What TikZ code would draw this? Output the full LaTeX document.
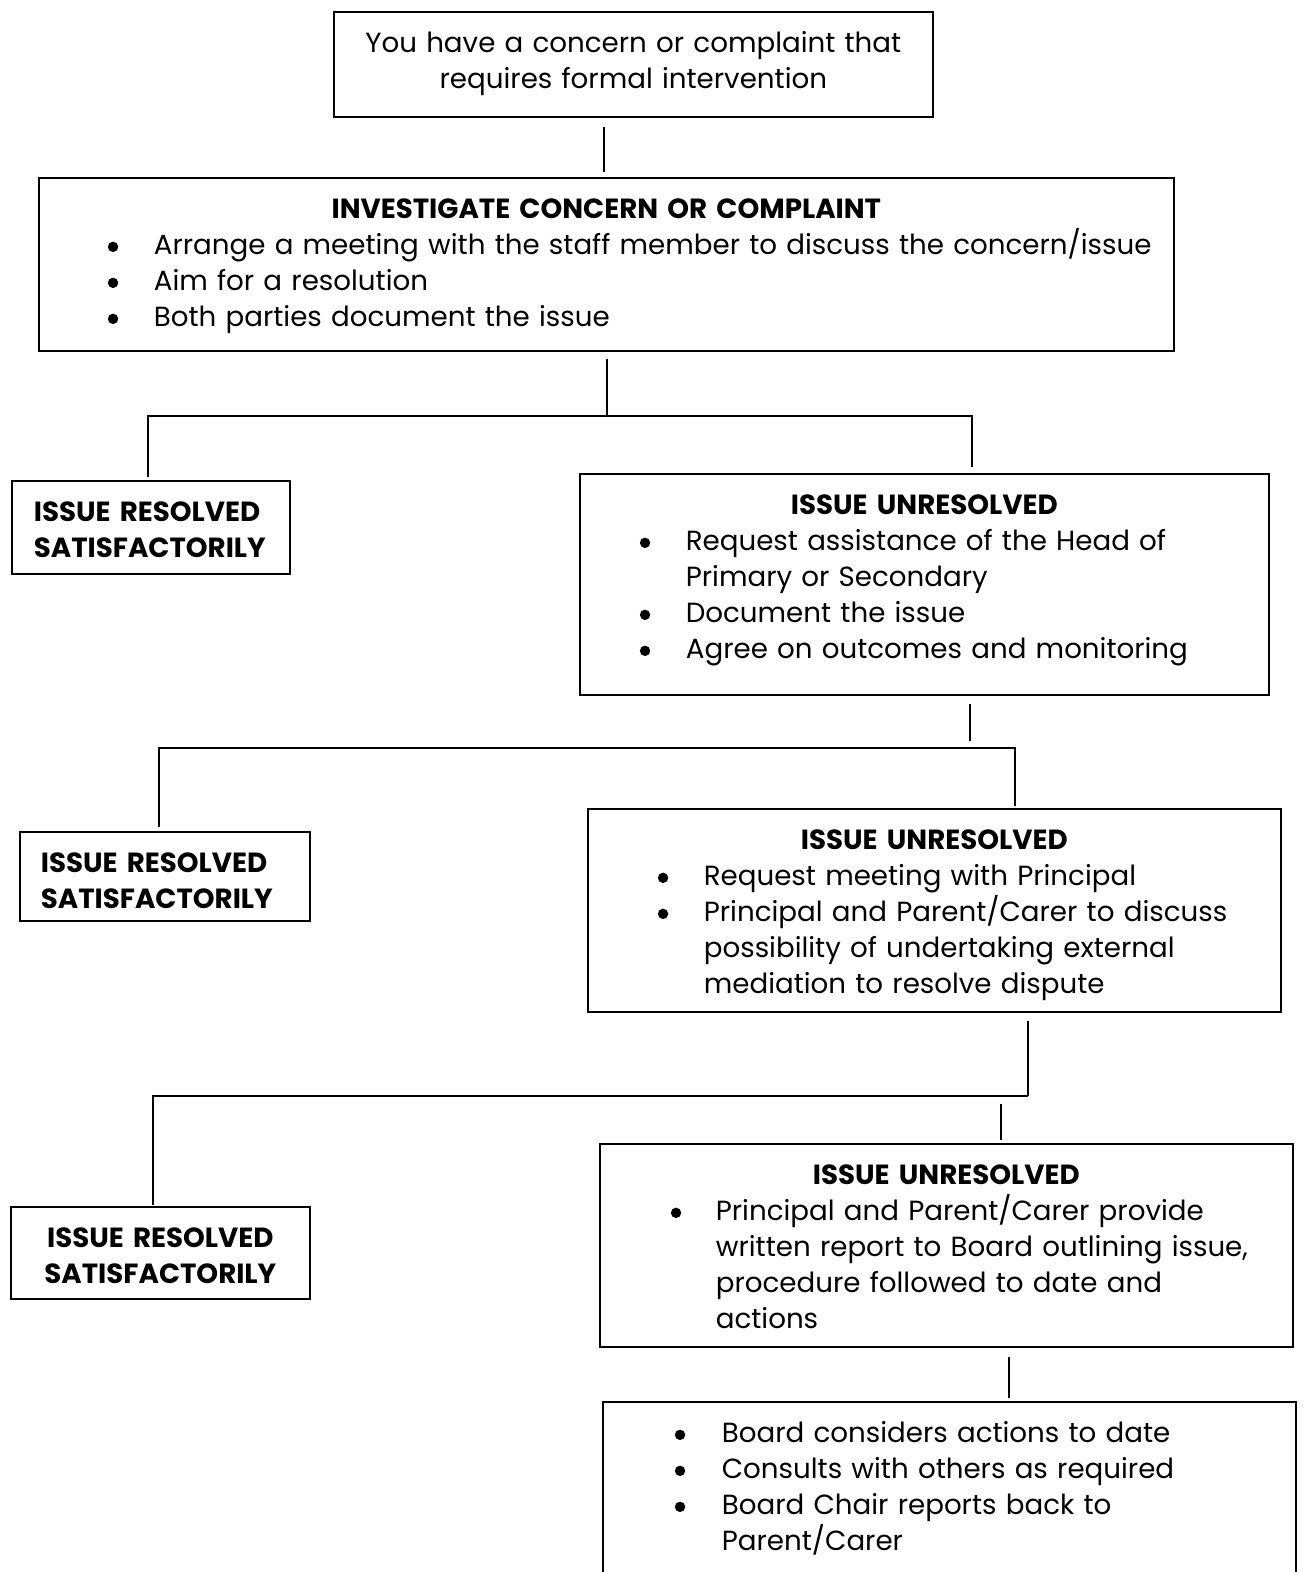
\documentclass[tikz,border=0pt]{standalone}
\usepackage{fontspec}
\setmainfont{Poppins}
\newcommand{\dotmark}{\tikz[baseline=0pt]\fill (0pt,8pt) circle (5.2pt);}
\newcommand{\bitem}[3]{\leftskip=#2\relax\noindent\llap{\makebox[\dimexpr#2-#1\relax][l]{\dotmark}}#3\par}
\tikzset{
  box/.style={draw, line width=1.7pt, anchor=north west, inner sep=0pt, align=left,
    text height=41pt, font=\fontsize{27.7}{36}\selectfont},
  link/.style={line width=1.5pt},
}

\begin{document}
\begin{tikzpicture}[x=1pt,y=-1pt]
    \useasboundingbox (0,0) rectangle (1306,1572);
    \clip (0,0) rectangle (1306,1572);

    \node[box, align=center, text width=599pt, text depth=64pt] (ask) at (333,11)
        {You have a concern or complaint that\\ requires formal intervention};
    \node[box, text width=1135pt, text depth=132pt] (inv) at (38,177)
        {{\centering\bfseries INVESTIGATE CONCERN OR COMPLAINT\par}
         \bitem{69pt}{115pt}{Arrange a meeting with the staff member to discuss the concern/issue}
         \bitem{69pt}{115pt}{Aim for a resolution}
         \bitem{69pt}{115pt}{Both parties document the issue}};

    \node[box, text width=278pt, text depth=52pt] (res1) at (11,480)
        {\leftskip=22pt\bfseries ISSUE RESOLVED\\ SATISFACTORILY\par};
    \node[box, text width=689pt, text depth=180pt] (unres1) at (579,473)
        {{\centering\bfseries ISSUE UNRESOLVED\par}
         \bitem{60pt}{106pt}{Request assistance of the Head of\\ Primary or Secondary}
         \bitem{60pt}{106pt}{Document the issue}
         \bitem{60pt}{106pt}{Agree on outcomes and monitoring}};

    \node[box, text width=290pt, text depth=48pt] (res2) at (19,831)
        {\leftskip=21pt\bfseries ISSUE RESOLVED\\ SATISFACTORILY\par};
    \node[box, text width=693pt, text depth=162pt] (unres2) at (587,808)
        {{\centering\bfseries ISSUE UNRESOLVED\par}
         \bitem{70pt}{116pt}{Request meeting with Principal}
         \bitem{70pt}{116pt}{Principal and Parent/Carer to discuss\\ possibility of undertaking external\\ mediation to resolve dispute}};

    \node[box, align=center, text width=299pt, text depth=51pt] (res3) at (10,1206)
        {\bfseries ISSUE RESOLVED\\ SATISFACTORILY};
    \node[box, text width=693pt, text depth=162pt] (unres3) at (599,1143)
        {{\centering\bfseries ISSUE UNRESOLVED\par}
         \bitem{71pt}{116pt}{Principal and Parent/Carer provide\\ written report to Board outlining issue,\\ procedure followed to date and\\ actions}};

    \node[box, text width=693pt, text depth=159pt] (board) at (602,1401)
        {\bitem{72pt}{119pt}{Board considers actions to date}
         \bitem{72pt}{119pt}{Consults with others as required}
         \bitem{72pt}{119pt}{Board Chair reports back to\\ Parent/Carer}};

    \coordinate (in0) at ([xshift=-2.5pt]inv.north);
    \draw[link, shorten <=9pt, shorten >=5pt] (ask.south -| in0) -- (in0);

    \coordinate (fork1) at (607,416);
    \draw[link, shorten <=7pt] (inv.south -| fork1) -- (fork1);
    \draw[link, shorten >=3pt] (fork1) -| ([xshift=-3pt]res1.north);
    \draw[link, shorten >=6pt] (fork1) -| ([xshift=47.5pt]unres1.north);

    \coordinate (fork2) at (970,748);
    \draw[link, shorten <=8pt, shorten >=7pt] (unres1.south -| fork2) -- (fork2);
    \draw[link, shorten <=4pt, shorten >=2pt] ([xshift=-6pt]res2.north) |- (fork2) -| ([xshift=80.5pt]unres2.north);

    \coordinate (fork3) at (1028,1096);
    \coordinate (in3) at ([xshift=54.5pt]unres3.north);
    \draw[link, shorten <=8pt] (unres2.south -| fork3) -- (fork3);
    \draw[link, shorten <=1pt] ([xshift=-7.5pt]res3.north) |- (fork3);
    \draw[link, shorten <=8pt, shorten >=3pt] (fork3 -| in3) -- (in3);

    \draw[link, shorten <=9pt, shorten >=3pt] ([xshift=62.5pt]unres3.south) -- ([xshift=59.5pt]board.north);
\end{tikzpicture}
\end{document}
